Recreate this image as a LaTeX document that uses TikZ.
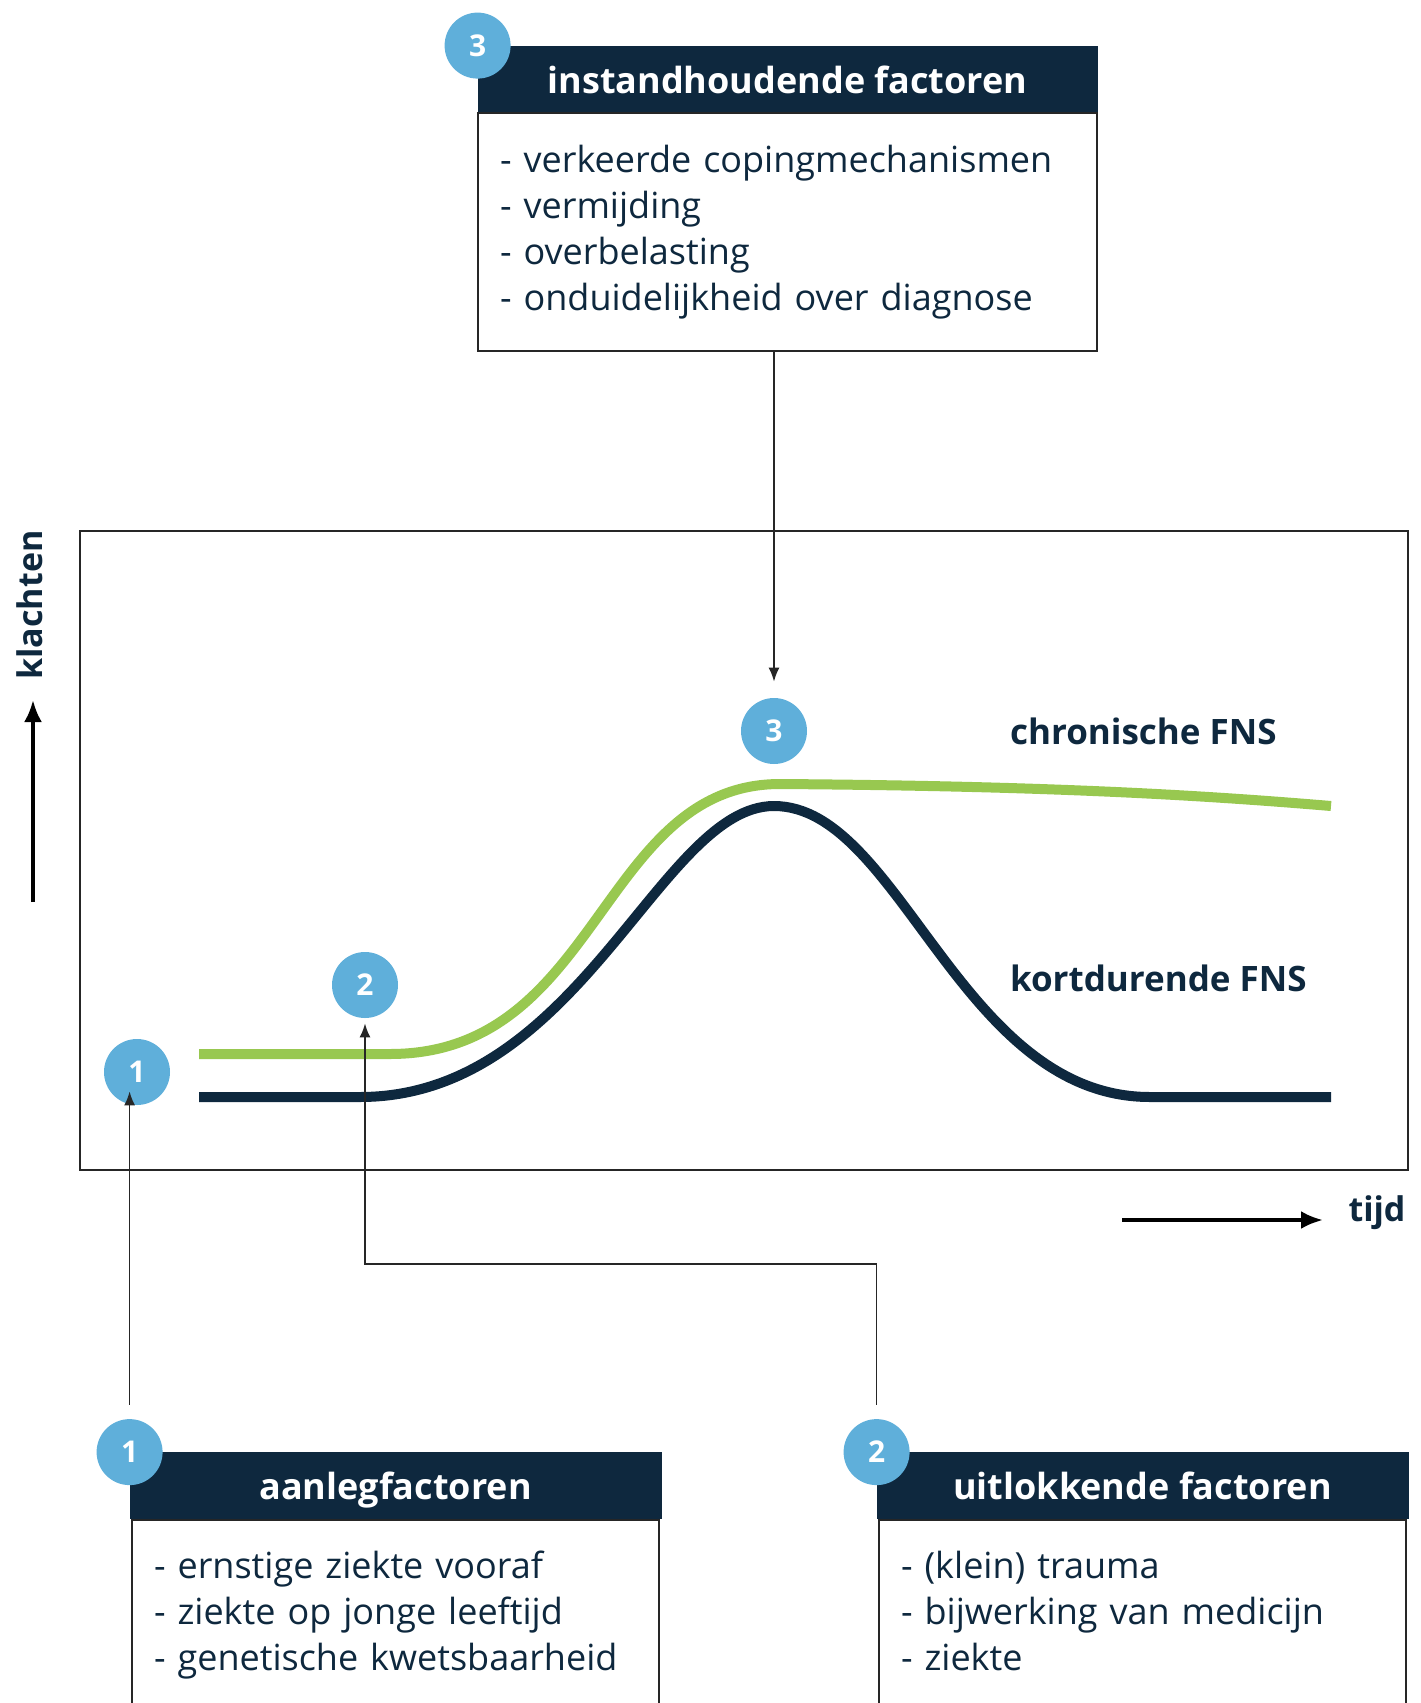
\documentclass[tikz,border=0pt]{standalone}
\usepackage{fontspec}
\setmainfont{Open Sans}
\usetikzlibrary{arrows.meta}
\usetikzlibrary{positioning}
\definecolor{fns navy}{RGB}{14,40,62}
\definecolor{fns blue}{RGB}{95,175,218}
\definecolor{fns green}{RGB}{152,200,80}

\begin{document}
\begin{tikzpicture}[x=0.5pt, y=-0.5pt,
					num circle/.style={circle, fill=fns blue, text=white, minimum size=33pt, inner sep=0pt, font=\fontsize{15}{15}\selectfont\bfseries},
					box head/.style={fill=fns navy, draw=fns navy, text=white, minimum height=33pt, inner sep=0pt, text height=16pt, text depth=2pt, font=\fontsize{18}{18}\selectfont\bfseries},
					box body/.style={draw=black!85, line width=1pt, fill=white, align=left, inner xsep=11pt, text=fns navy, font=\fontsize{18}{23}\selectfont, execute at begin node=\strut, execute at end node=\strut},
					curve line/.style={line width=5pt},
					curve label/.style={anchor=west, text=fns navy, font=\fontsize{17.5}{17.5}\selectfont\bfseries},
					axis arrow/.style={line width=2pt, -{Latex[length=11pt, width=9pt]}},
					axis label/.style={text=fns navy, font=\fontsize{17}{17}\selectfont\bfseries},
					conn/.style={line width=0.8pt, draw=black!85, -{Latex[length=7pt, width=5.5pt]}},
				]
					\useasboundingbox (0,0) rectangle (1420,1703);
					\clip (0,0) rectangle (1420,1703);
					
					% top box
					\node[box head, minimum width=309.5pt] (head3) at (787.5,79) {instandhoudende factoren};
					\node[box body, text width=287.5pt, minimum height=119pt, below=0pt of head3] (body3) {- verkeerde copingmechanismen\\- vermijding\\- overbelasting\\- onduidelijkheid over diagnose};
					\node[num circle] (c3) at (head3.north west) {3};
					
					% graph
					\draw[line width=1pt, draw=black!85] (80,531) rectangle (1408,1170);
					\draw[curve line, fns green] (199,1054) -- (390,1054) .. controls (600,1054) and (600,784) .. (780,784) .. controls (1050,786) and (1200,795) .. (1331,806);
					\draw[curve line, fns navy] (199,1097) -- (360,1097) .. controls (580,1097) and (660,806) .. (774,806) .. controls (900,806) and (960,1097) .. (1150,1097) -- (1331,1097);
					\node[curve label] (chron) at (1003,731) {chronische FNS};
					\node[curve label] (kort) at (1003,978) {kortdurende FNS};
					
					\node[num circle] (n1) at (137,1072) {1};
					\node[num circle] (n2) at (365,985) {2};
					\node[num circle] (n3) at (774,731) {3};
					
					% axes
					\node[axis label, rotate=90] (klachten) at (30,605) {klachten};
					\coordinate (up from) at (33,902);
					\coordinate (up to) at (33,700);
					\draw[axis arrow] (up from) -- (up to);
					\node[axis label] (tijd) at (1377,1213) {tijd};
					\coordinate (right from) at (1122,1220);
					\coordinate (right to) at (1323,1220);
					\draw[axis arrow] (right from) -- (right to);
					
					% bottom boxes
					\node[box head, minimum width=265.5pt] (head1) at (395.5,1485.5) {aanlegfactoren};
					\node[box body, text width=241.5pt, minimum height=95pt, below=0pt of head1] (body1) {- ernstige ziekte vooraf\\- ziekte op jonge leeftijd\\- genetische kwetsbaarheid};
					\node[num circle] (b1) at (head1.north west) {1};
					
					\node[box head, minimum width=265.5pt] (head2) at (1142.5,1485.5) {uitlokkende factoren};
					\node[box body, text width=241.5pt, minimum height=95pt, below=0pt of head2] (body2) {- (klein) trauma\\- bijwerking van medicijn\\- ziekte};
					\node[num circle] (b2) at (head2.north west) {2};
					
					% connectors
					\draw[conn] (n3.north |- body3.south) -- ([yshift=8pt]n3.north);
					\draw[conn, shorten <=7pt] (b1.north) -- ([yshift=7pt]b1.north |- n1.south);
					\draw[conn, shorten <=7pt, shorten >=2.5pt] (b2.north) |- (n2.south |- 0,1264) -- (n2.south);
				\end{tikzpicture}
\end{document}
